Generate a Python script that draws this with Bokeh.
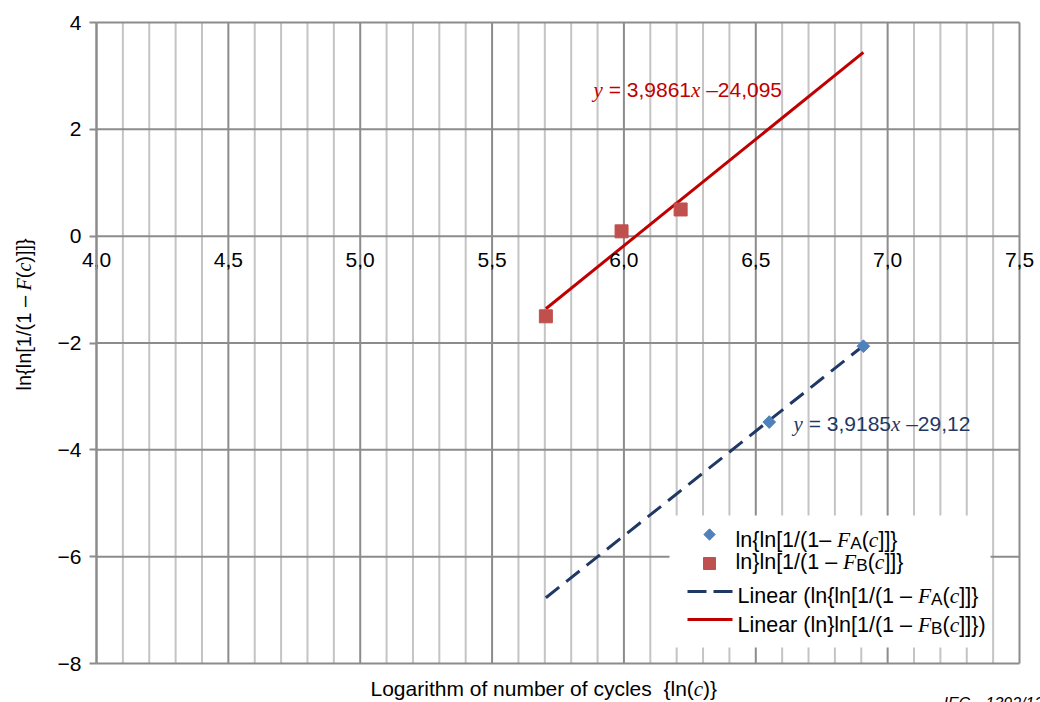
from math import pi

from bokeh.embed import file_html
from bokeh.models import CustomJSTickFormatter, FixedTicker, Label, Range1d
from bokeh.plotting import figure
from bokeh.resources import INLINE

# ---- data -------------------------------------------------------------
# ln(cycles) and ln{ln[1/(1-F)]} for the two sample sets
lnc_A = [6.551, 6.908]
weib_A = [-3.48, -2.06]
lnc_B = [5.704, 5.991, 6.215]
weib_B = [-1.50, 0.09, 0.50]

# linear trend lines (slope, intercept) and their x span
slope_A, icpt_A = 3.9185, -29.12
slope_B, icpt_B = 3.9861, -24.095
trend_x = [5.704, 6.908]

x_major = [4.0, 4.5, 5.0, 5.5, 6.0, 6.5, 7.0, 7.5]
x_minor = [round(4.0 + 0.1 * k, 1) for k in range(36) if k % 5 != 0]
y_major = [-8, -6, -4, -2, 0, 2, 4]

# ---- layout constants ---------------------------------------------------
# the plotting box (in canvas pixels) that holds x 4.0..7.5 and y -8..4
W, H = 1040, 702
FL, FR, FT, FB = 96, 1019, 22, 663
X0, X1, Y0, Y1 = 4.0, 7.5, -8.0, 4.0

SANS = "Liberation Sans"
SERIF = "Liberation Serif"
GRID_DARK = "#8c8c8c"
GRID_LIGHT = "#c4c4c4"
RED = "#c00000"
NAVY = "#1f3864"


def dx(px):
    return X0 + (px - FL) * (X1 - X0) / (FR - FL)


def dy(py):
    return Y1 - (py - FT) * (Y1 - Y0) / (FB - FT)


SANS_W = {' ': 278, ',': 278, '.': 278, '/': 278, '(': 333, ')': 333,
          '[': 278, ']': 278, '{': 334, '}': 334, '=': 584, '\u2013': 556,
          '\u2212': 584, 'A': 667, 'B': 667, 'C': 722, 'E': 667, 'F': 611,
          'I': 278, 'L': 556, 'a': 556, 'b': 556, 'c': 500, 'e': 556,
          'f': 278, 'g': 556, 'h': 556, 'i': 222, 'l': 222, 'm': 833,
          'n': 556, 'o': 556, 'r': 333, 's': 500, 't': 278, 'u': 556,
          'x': 500, 'y': 500}
SERIF_I_W = {'F': 611, 'c': 444, 'x': 444, 'y': 444}


def text_w(txt, kind, size):
    table = SERIF_I_W if kind == "i" else SANS_W
    return sum(table.get(ch, 556) for ch in txt) * size / 1000.0


# the frame covers the whole canvas so titles and labels are never clipped
p = figure(width=W, height=H,
           x_range=Range1d(dx(0), dx(W)), y_range=Range1d(dy(H), dy(0)),
           output_backend="svg", toolbar_location=None,
           min_border=0, min_border_left=0, min_border_right=0,
           min_border_top=0, min_border_bottom=0,
           background_fill_color="white", border_fill_color="white")
p.outline_line_color = None
p.xgrid.visible = False
p.ygrid.visible = False


def rich(px, py, segs, size, color, vertical=False):
    """Lay out mixed-style text pieces one after another; (px, py) is the
    start of the baseline, text is anchored on its middle line."""
    pos = 0.0
    mid = 0.36 * size
    for txt, kind in segs:
        s = size * 0.8 if kind == "sub" else size
        shift = 3 if kind == "sub" else 0
        body = txt.strip(" ")
        lead = len(txt) - len(txt.lstrip(" "))
        trail = len(txt) - len(txt.rstrip(" "))
        pos += lead * 278 * s / 1000.0
        if vertical:
            x, y = px + shift - mid, py - pos
        else:
            x, y = px + pos, py + shift - mid
        p.add_layout(Label(
            x=dx(x), y=dy(y), text=body,
            text_font=SERIF if kind == "i" else SANS,
            text_font_style="italic" if kind == "i" else "normal",
            text_font_size=f"{s}px", text_color=color,
            text_baseline="middle", text_align="left",
            angle=pi / 2 if vertical else 0))
        pos += text_w(body, kind, s) + trail * 278 * s / 1000.0


# ---- grid ----------------------------------------------------------------
p.segment(x0=x_minor, x1=x_minor, y0=[Y0] * len(x_minor), y1=[Y1] * len(x_minor),
          line_color=GRID_LIGHT, line_width=2)
p.segment(x0=x_major, x1=x_major, y0=[Y0] * len(x_major), y1=[Y1] * len(x_major),
          line_color=GRID_DARK, line_width=2)
p.segment(x0=[X0] * len(y_major), x1=[X1] * len(y_major), y0=y_major, y1=y_major,
          line_color=GRID_DARK, line_width=2)

# ---- axes ----------------------------------------------------------------
p.xaxis.ticker = FixedTicker(ticks=x_major)
p.xaxis.formatter = CustomJSTickFormatter(
    code="return tick.toFixed(1).replace('.', ',');")
p.xaxis.fixed_location = 0
p.xaxis.bounds = (X0, X1)
p.xaxis.axis_line_color = None
p.xaxis.major_tick_line_color = None
p.xaxis.minor_tick_line_color = None
p.xaxis.major_label_standoff = 11

p.yaxis.ticker = FixedTicker(ticks=y_major)
p.yaxis.formatter = CustomJSTickFormatter(
    code="return tick < 0 ? '\u2212' + Math.abs(tick) : String(tick);")
p.yaxis.fixed_location = X0
p.yaxis.bounds = (Y0, Y1)
p.yaxis.axis_line_color = GRID_DARK
p.yaxis.axis_line_width = 2
p.yaxis.major_tick_line_color = GRID_DARK
p.yaxis.major_tick_line_width = 2
p.yaxis.major_tick_in = 0
p.yaxis.major_tick_out = 7
p.yaxis.minor_tick_line_color = None
p.yaxis.major_label_standoff = 8

for ax in (p.xaxis, p.yaxis):
    ax.major_label_text_font = SANS
    ax.major_label_text_font_size = "21px"
    ax.major_label_text_color = "black"

# ---- legend backing ------------------------------------------------------
p.quad(left=dx(669), right=dx(990), top=dy(515), bottom=dy(647),
       fill_color="white", line_color=None)

# ---- trend lines and points ---------------------------------------------
p.line(trend_x, [slope_A * x + icpt_A for x in trend_x],
       line_color=NAVY, line_width=3, line_dash="17 9")
p.line(trend_x, [slope_B * x + icpt_B for x in trend_x],
       line_color=RED, line_width=3)

p.scatter(lnc_A, weib_A, marker="square", angle=pi / 4, size=9,
          fill_color="#4f81bd", line_color="#4f81bd")
p.scatter(lnc_B, weib_B, marker="square", size=13,
          fill_color="#c0504d", line_color="#c0504d")


def num(v):
    return f"{v}".replace(".", ",")


EQ = 21
rich(593, 97, [("y", "i"), (f" = {num(slope_B)}", "n"), ("x", "i"),
               (f" \u2013{num(abs(icpt_B))}", "n")], EQ, RED)
rich(793, 431, [("y", "i"), (f" = {num(slope_A)}", "n"), ("x", "i"),
                (f" \u2013{num(abs(icpt_A))}", "n")], EQ, NAVY)

# ---- legend --------------------------------------------------------------
p.scatter([dx(709)], [dy(534)], marker="square", angle=pi / 4, size=8,
          fill_color="#4f81bd", line_color="#4f81bd")
p.scatter([dx(709)], [dy(563)], marker="square", size=12,
          fill_color="#c0504d", line_color="#c0504d")
p.line([dx(687), dx(732)], [dy(591), dy(591)], line_color=NAVY,
       line_width=3, line_dash="19 7")
p.line([dx(687), dx(732)], [dy(619), dy(619)], line_color=RED, line_width=3)

LEG = 21.5
rich(735, 547, [("ln{ln[1/(1\u2013 ", "n"), ("F", "i"), ("A", "sub"),
                ("(", "n"), ("c", "i"), ("]]}", "n")], LEG, "black")
rich(735, 569, [("ln}ln[1/(1 \u2013 ", "n"), ("F", "i"), ("B", "sub"),
                ("(", "n"), ("c", "i"), ("]]}", "n")], LEG, "black")
rich(737, 603, [("Linear (ln{ln[1/(1 \u2013 ", "n"), ("F", "i"), ("A", "sub"),
                ("(", "n"), ("c", "i"), ("]]}", "n")], LEG, "black")
rich(737, 632, [("Linear (ln}ln[1/(1 \u2013 ", "n"), ("F", "i"), ("B", "sub"),
                ("(", "n"), ("c", "i"), ("]]})", "n")], LEG, "black")

# ---- axis titles ---------------------------------------------------------
rich(370, 696, [("Logarithm of number of cycles", "n"), ("  {ln(", "n"),
                ("c", "i"), (")}", "n")], 21, "black")
rich(31, 390, [("ln{ln[1/(1 \u2013 ", "n"), ("F", "i"), ("(", "n"),
               ("c", "i"), (")]]}", "n")], 20, "black", vertical=True)

# figure reference number
for txt, px in (("IEC", 943), ("1392/13", 985)):
    p.add_layout(Label(x=dx(px), y=dy(703), text=txt,
                       text_font=SANS, text_font_style="italic",
                       text_font_size="16px", text_color="black",
                       text_baseline="middle"))

open("out.html", "w").write(file_html(p, INLINE))
